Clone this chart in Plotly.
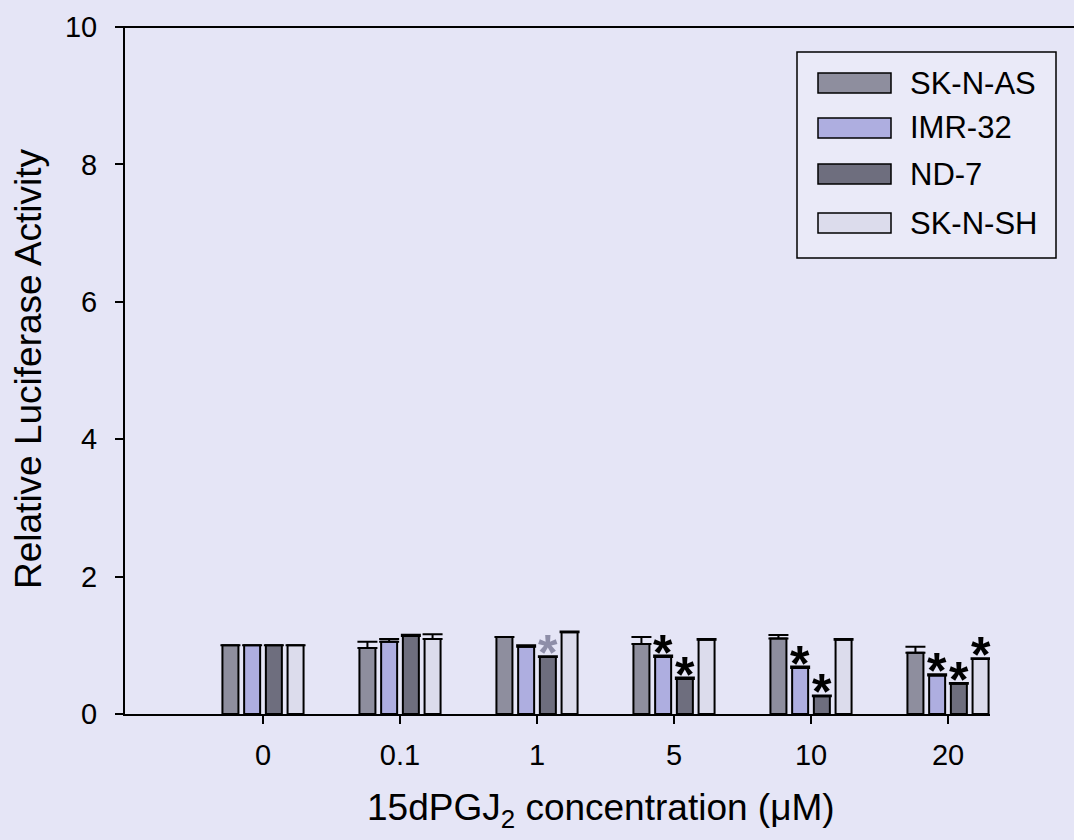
import plotly.graph_objects as go

# ---- data ----
concentrations = ["0", "0.1", "1", "5", "10", "20"]
series_names = ["SK-N-AS", "IMR-32", "ND-7", "SK-N-SH"]
sk_n_as = [1.00, 0.96, 1.12, 1.02, 1.10, 0.89]
sk_n_as_err = [0.00, 0.09, 0.00, 0.10, 0.05, 0.09]
imr_32 = [1.00, 1.05, 0.98, 0.83, 0.67, 0.56]
imr_32_err = [0.00, 0.04, 0.02, 0.02, 0.02, 0.02]
nd_7 = [1.00, 1.135, 0.83, 0.51, 0.26, 0.44]
nd_7_err = [0.00, 0.02, 0.01, 0.02, 0.01, 0.01]
sk_n_sh = [1.00, 1.09, 1.19, 1.08, 1.08, 0.80]
sk_n_sh_err = [0.00, 0.07, 0.01, 0.01, 0.01, 0.01]
# significance flags: 0 none, 1 black star, 2 grey star
sig_sk_n_as = [0, 0, 0, 0, 0, 0]
sig_imr_32 = [0, 0, 0, 1, 1, 1]
sig_nd_7 = [0, 0, 2, 1, 1, 1]
sig_sk_n_sh = [0, 0, 0, 0, 0, 1]
y_ticks = [0, 2, 4, 6, 8, 10]

values = [sk_n_as, imr_32, nd_7, sk_n_sh]
errors = [sk_n_as_err, imr_32_err, nd_7_err, sk_n_sh_err]
sigs = [sig_sk_n_as, sig_imr_32, sig_nd_7, sig_sk_n_sh]

# ---- style ----
colors = ["#8e8e9e", "#aeaee0", "#6e6e7e", "#dcdcec"]
bg = "#e5e5f6"
FONT = "Arial, Liberation Sans, sans-serif"
W, H = 1074, 840
L, R, T, B = 125, 84, 27, 126
PW, PH = W - L - R, H - T - B
BARGAP = 0.366
SLOT = (1 - BARGAP) / 4


def px_x(px):
    return (px - L) / PW


def px_y(py):
    return (H - B - py) / PH


xs = list(range(len(concentrations)))
fig = go.Figure()
for name, vals, errs, col in zip(series_names, values, errors, colors):
    fig.add_trace(go.Bar(
        x=xs, y=vals, name=name,
        marker=dict(color=col, line=dict(color="black", width=2)),
        error_y=dict(type="data", array=errs, arrayminus=[0] * len(errs),
                     symmetric=False, color="black", thickness=2, width=10),
        showlegend=False,
    ))

annotations = []
for j, (vals, errs, sg) in enumerate(zip(values, errors, sigs)):
    for i, (v, e, s) in enumerate(zip(vals, errs, sg)):
        if s:
            annotations.append(dict(
                x=i + (j - 1.5) * SLOT, y=v + e, xref="x", yref="y",
                text="<b>*</b>", showarrow=False, yanchor="bottom",
                yshift=-27,
                font=dict(family=FONT, size=50,
                          color="black" if s == 1 else "#8e8ea8"),
            ))

# axis titles
annotations.append(dict(
    x=px_x(28), y=px_y(369), xref="paper", yref="paper", textangle=-90,
    xanchor="center", yanchor="middle",
    text="Relative Luciferase Activity", showarrow=False,
    font=dict(family=FONT, size=37, color="black"),
))
annotations.append(dict(
    x=px_x(601), y=px_y(810), xref="paper", yref="paper",
    xanchor="center", yanchor="middle",
    text="15dPGJ<sub>2</sub> concentration (\u03bcM)", showarrow=False,
    font=dict(family=FONT, size=37, color="black"),
))

shapes = []
# top line
shapes.append(dict(type="line", xref="paper", yref="paper",
                   x0=px_x(117), x1=px_x(1074), y0=1, y1=1,
                   line=dict(color="black", width=2)))
# legend box
shapes.append(dict(type="rect", xref="paper", yref="paper",
                   x0=px_x(797), x1=px_x(1056), y0=px_y(52), y1=px_y(258),
                   fillcolor="#eaeaf8", line=dict(color="black", width=1.5)))
row_centers = [83, 128, 174, 223]
for name, col, cy in zip(series_names, colors, row_centers):
    shapes.append(dict(type="rect", xref="paper", yref="paper",
                       x0=px_x(818), x1=px_x(891),
                       y0=px_y(cy + 10), y1=px_y(cy - 10),
                       fillcolor=col, line=dict(color="black", width=1.5)))
    annotations.append(dict(
        x=px_x(908), y=px_y(cy), xref="paper", yref="paper",
        xanchor="left", yanchor="middle", text=name, showarrow=False,
        font=dict(family=FONT, size=31, color="black"),
    ))

fig.update_layout(
    width=W, height=H,
    margin=dict(l=L, r=R, t=T, b=B, pad=0),
    paper_bgcolor=bg, plot_bgcolor=bg,
    barmode="group", bargap=BARGAP, bargroupgap=0.263,
    font=dict(family=FONT, color="black"),
    annotations=annotations, shapes=shapes,
    xaxis=dict(
        range=[-(263 - L) / 137, -(263 - L) / 137 + PW / 137],
        tickvals=xs, ticktext=concentrations,
        showline=True, linecolor="black", linewidth=2,
        ticks="outside", ticklen=8, tickwidth=2, tickcolor="black",
        showgrid=False, zeroline=False,
        tickfont=dict(family=FONT, size=29, color="black"),
        ticklabelstandoff=6,
    ),
    yaxis=dict(
        range=[0, 10], tickvals=y_ticks,
        showline=True, linecolor="black", linewidth=2,
        ticks="outside", ticklen=8, tickwidth=2, tickcolor="black",
        showgrid=False, zeroline=False,
        tickfont=dict(family=FONT, size=29, color="black"),
        ticklabelstandoff=12,
    ),
)

fig.write_html(
    "out.html",
    config={"displayModeBar": False},
    post_script="document.body.style.margin='0';"
                "document.body.style.background='#e5e5f6';",
)
